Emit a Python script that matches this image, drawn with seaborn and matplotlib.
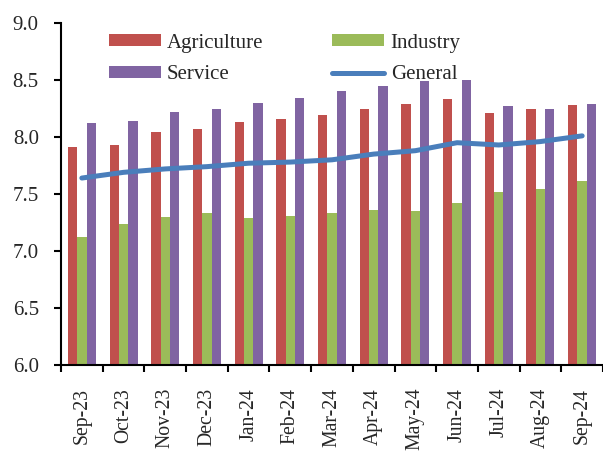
import numpy as np
import pandas as pd
import matplotlib.pyplot as plt
import seaborn as sns

# Values
months = ['Sep-23', 'Oct-23', 'Nov-23', 'Dec-23', 'Jan-24', 'Feb-24', 'Mar-24',
          'Apr-24', 'May-24', 'Jun-24', 'Jul-24', 'Aug-24', 'Sep-24']
agriculture = [7.91, 7.93, 8.04, 8.07, 8.13, 8.16, 8.19, 8.25, 8.29, 8.33, 8.21, 8.25, 8.28]
industry = [7.12, 7.24, 7.30, 7.33, 7.29, 7.31, 7.33, 7.36, 7.35, 7.42, 7.52, 7.54, 7.61]
service = [8.12, 8.14, 8.22, 8.25, 8.30, 8.34, 8.40, 8.45, 8.49, 8.50, 8.27, 8.25, 8.29]
general = [7.64, 7.69, 7.72, 7.74, 7.77, 7.78, 7.80, 7.85, 7.88, 7.95, 7.93, 7.96, 8.01]

bars = pd.DataFrame({
    'month': months * 3,
    'value': agriculture + industry + service,
    'sector': ['Agriculture'] * len(months) + ['Industry'] * len(months) + ['Service'] * len(months),
})
line = pd.DataFrame({'x': np.arange(len(months)), 'value': general})

sns.set_style('white')
plt.rcParams['font.family'] = ['Liberation Serif', 'DejaVu Serif']

fig = plt.figure(figsize=(6.03, 4.53), dpi=100)
ax = fig.add_axes([61 / 603, 88 / 453, 542 / 603, 342 / 453])

palette = {'Agriculture': '#C0504D', 'Industry': '#9BBB59', 'Service': '#8064A2'}
sns.barplot(data=bars, x='month', y='value', hue='sector', palette=palette,
            width=0.67, gap=0, saturation=1, linewidth=0, ax=ax)
sns.lineplot(data=line, x='x', y='value', color='#4A7EBB', linewidth=3.6,
             label='General', ax=ax)
for ln in ax.lines:
    ln.set_solid_capstyle('round')

fs = 15
ax.set_ylim(6.0, 9.0)
ax.set_xlim(-0.5, len(months) - 0.5)
ax.set_yticks(np.arange(6.0, 9.01, 0.5))
ax.set_yticklabels([f'{v:.1f}' for v in np.arange(6.0, 9.01, 0.5)], fontsize=fs)
ax.set_xticks(np.arange(len(months)))
ax.set_xticklabels(months, rotation=90, fontsize=14.2)
ax.set_xticks(np.arange(len(months) + 1) - 0.5, minor=True)
ax.tick_params(axis='x', which='major', length=0, pad=16.5)
ax.tick_params(axis='x', which='minor', length=5, width=1.5, direction='out', color='black', bottom=True)
ax.tick_params(axis='y', length=5, width=1.5, direction='out', color='black', left=True, pad=11)
ax.set_xlabel('')
ax.set_ylabel('')

for side in ['top', 'right']:
    ax.spines[side].set_visible(False)
for side in ['left', 'bottom']:
    ax.spines[side].set_color('black')
    ax.spines[side].set_linewidth(1.5)

handles, labels = ax.get_legend_handles_labels()
lookup = dict(zip(labels, handles))
order = ['Agriculture', 'Service', 'Industry', 'General']
ax.legend([lookup[k] for k in order], order, ncol=2, frameon=False, fontsize=fs,
          loc='upper left', bbox_to_anchor=(0.065, 1.005), handlelength=2.5,
          handleheight=0.5, columnspacing=3.3, labelspacing=0.6, handletextpad=0.3,
          borderaxespad=0.2)

fig.savefig('out.png', dpi=100)
